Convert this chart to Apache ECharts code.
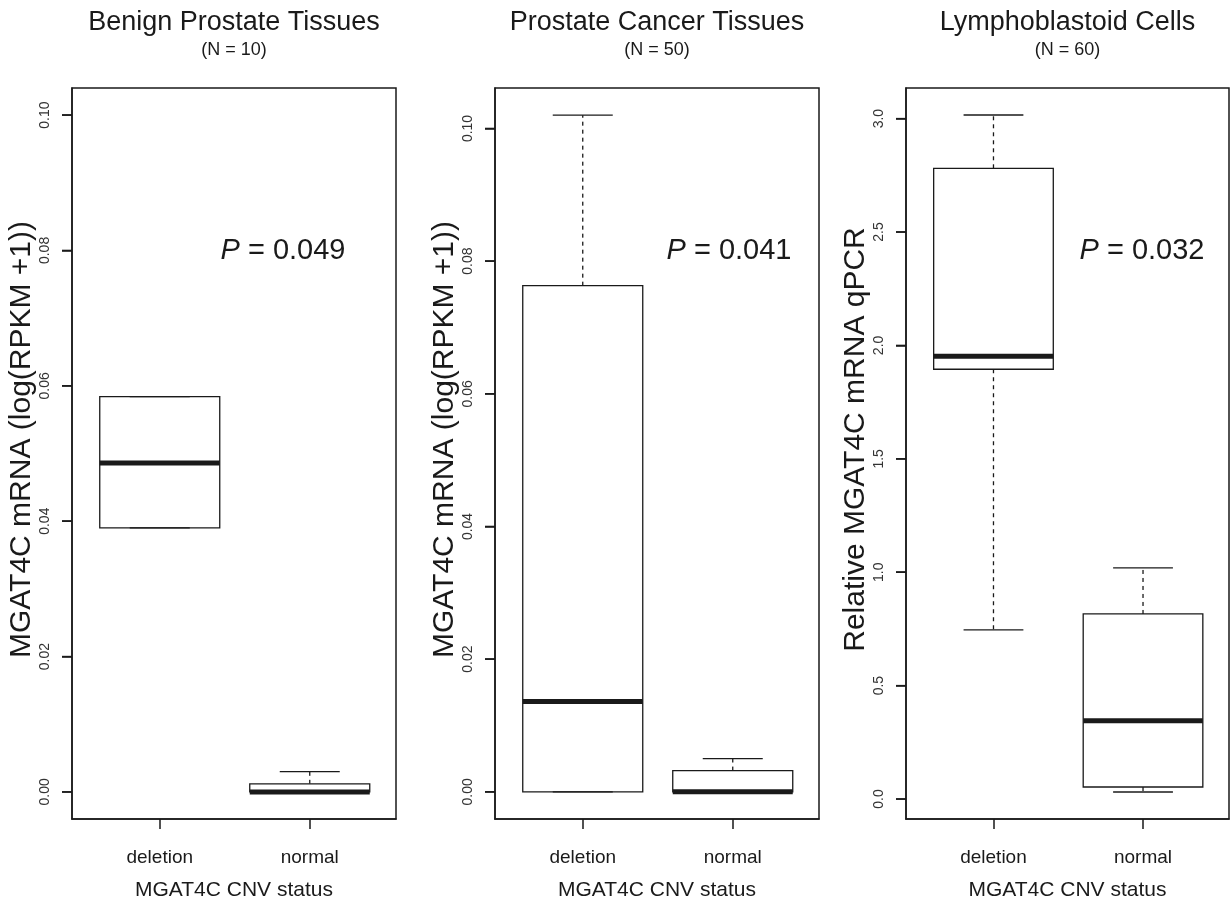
<!DOCTYPE html>
<html>
<head>
<meta charset="utf-8">
<script src="https://cdn.jsdelivr.net/npm/echarts@6/dist/echarts.min.js"></script>
<style>
html,body{margin:0;padding:0;background:#fff;}
#main{width:1230px;height:906px;}
</style>
</head>
<body>
<div id="main"></div>
<script>
// ---------- data ----------
const categories = ['deletion', 'normal'];
const panelTitles = ['Benign Prostate Tissues', 'Prostate Cancer Tissues', 'Lymphoblastoid Cells'];
const panelN = ['(N = 10)', '(N = 50)', '(N = 60)'];
const pValues = ['0.049', '0.041', '0.032'];
const yNames = ['MGAT4C mRNA (log(RPKM +1))', 'MGAT4C mRNA (log(RPKM +1))', 'Relative MGAT4C mRNA qPCR'];
const xName = 'MGAT4C CNV status';

// box statistics per category: [deletion, normal]
const benignLow    = [0.0390, 0.0000];
const benignQ1     = [0.0390, 0.0000];
const benignMedian = [0.0486, 0.0000];
const benignQ3     = [0.0584, 0.0012];
const benignHigh   = [0.0584, 0.0030];

const cancerLow    = [0.0000, 0.0000];
const cancerQ1     = [0.0000, 0.0000];
const cancerMedian = [0.0136, 0.0000];
const cancerQ3     = [0.0763, 0.0032];
const cancerHigh   = [0.1020, 0.0050];

const lymphoLow    = [0.746, 0.031];
const lymphoQ1     = [1.895, 0.053];
const lymphoMedian = [1.952, 0.345];
const lymphoQ3     = [2.781, 0.816];
const lymphoHigh   = [3.016, 1.019];

// y tick values and labels
const yTicksRPKM = [0, 0.02, 0.04, 0.06, 0.08, 0.10];
const yTickLabelsRPKM = ['0.00', '0.02', '0.04', '0.06', '0.08', '0.10'];
const yTicksQPCR = [0, 0.5, 1.0, 1.5, 2.0, 2.5, 3.0];
const yTickLabelsQPCR = ['0.0', '0.5', '1.0', '1.5', '2.0', '2.5', '3.0'];

// axis limits (data range extended by 4%, as in R)
const xLimits = [0.415, 2.575];
const yLimits = [[-0.004, 0.104], [-0.0041, 0.1061], [-0.088, 3.135]];

// ---------- build ----------
const panels = [
  {low: benignLow, q1: benignQ1, med: benignMedian, q3: benignQ3, high: benignHigh, ticks: yTicksRPKM, labels: yTickLabelsRPKM},
  {low: cancerLow, q1: cancerQ1, med: cancerMedian, q3: cancerQ3, high: cancerHigh, ticks: yTicksRPKM, labels: yTickLabelsRPKM},
  {low: lymphoLow, q1: lymphoQ1, med: lymphoMedian, q3: lymphoQ3, high: lymphoHigh, ticks: yTicksQPCR, labels: yTickLabelsQPCR}
];

const gridLefts = [72, 495, 906];
const gridWidths = [324, 324, 323];
const gridTop = 88, gridHeight = 732;
const narrow = "'Liberation Sans Narrow','Arial Narrow','Liberation Sans',Arial,sans-serif";
const sans = "'Liberation Sans',Arial,Helvetica,sans-serif";
const ink = '#1a1a1a';

const grids = [], xAxes = [], yAxes = [], series = [], graphics = [];

function renderBox(params, api) {
  const x = api.value(0);
  const lo = api.value(1), q1 = api.value(2), md = api.value(3), q3 = api.value(4), hi = api.value(5);
  const bw = api.size([0.8, 0])[0];
  const sw = bw / 2;
  const c = api.coord([x, md]);
  const cx = c[0];
  const yLo = api.coord([x, lo])[1];
  const yQ1 = api.coord([x, q1])[1];
  const yMd = c[1];
  const yQ3 = api.coord([x, q3])[1];
  const yHi = api.coord([x, hi])[1];
  const lineStyle = {stroke: ink, lineWidth: 1.3, fill: null};
  const dashStyle = {stroke: ink, lineWidth: 1.3, lineDash: [4, 4], fill: null};
  const children = [
    {type: 'line', shape: {x1: cx, y1: yQ3, x2: cx, y2: yHi}, style: dashStyle},
    {type: 'line', shape: {x1: cx, y1: yQ1, x2: cx, y2: yLo}, style: dashStyle},
    {type: 'rect', shape: {x: cx - bw / 2, y: yQ3, width: bw, height: yQ1 - yQ3}, style: {stroke: ink, lineWidth: 1.3, fill: '#fff'}},
    {type: 'line', shape: {x1: cx - sw / 2, y1: yHi, x2: cx + sw / 2, y2: yHi}, style: lineStyle},
    {type: 'line', shape: {x1: cx - sw / 2, y1: yLo, x2: cx + sw / 2, y2: yLo}, style: lineStyle},
    {type: 'line', shape: {x1: cx - bw / 2, y1: yMd, x2: cx + bw / 2, y2: yMd}, style: {stroke: ink, lineWidth: 5}}
  ];
  // y-axis tick marks at the left edge of the plot (drawn once per panel)
  if (params.dataIndex === 0) {
    const ticks = panels[params.seriesIndex].ticks;
    ticks.forEach(function (t) {
      const pt = api.coord([xLimits[0], t]);
      children.push({type: 'line', shape: {x1: pt[0] - 10, y1: pt[1], x2: pt[0], y2: pt[1]},
        style: {stroke: ink, lineWidth: 1.5}});
    });
  }
  return {type: 'group', children: children};
}

panels.forEach(function (p, i) {
  grids.push({
    left: gridLefts[i], top: gridTop, width: gridWidths[i], height: gridHeight,
    show: true, borderColor: ink, borderWidth: 1.5, backgroundColor: 'transparent'
  });
  xAxes.push({
    type: 'value', gridIndex: i, min: xLimits[0], max: xLimits[1], position: 'bottom',
    name: xName, nameLocation: 'middle', nameGap: 61,
    nameTextStyle: {fontFamily: sans, fontSize: 21, color: ink},
    axisLine: {show: true, onZero: false, lineStyle: {color: ink, width: 1.5}},
    splitLine: {show: false},
    axisTick: {show: true, inside: false, length: 10, lineStyle: {color: ink, width: 1.5}, customValues: [1, 2]},
    axisLabel: {
      show: true, margin: 29, fontFamily: sans, fontSize: 19, color: ink,
      customValues: [1, 2],
      formatter: function (v) { return categories[Math.round(v) - 1]; }
    }
  });
  yAxes.push({
    type: 'value', gridIndex: i, min: yLimits[i][0], max: yLimits[i][1], position: 'left',
    name: yNames[i], nameLocation: 'middle', nameRotate: 90, nameGap: 34,
    nameTextStyle: {fontFamily: sans, fontSize: 30, color: ink, padding: [0, 0, 0, 28]},
    axisLine: {show: true, onZero: false, lineStyle: {color: ink, width: 1.5}},
    splitLine: {show: false},
    axisTick: {show: true, inside: false, length: 10, lineStyle: {color: ink, width: 1.5}, customValues: p.ticks.slice()},
    axisLabel: {
      show: true, rotate: 90, margin: 20, fontFamily: narrow, fontSize: 14, color: '#333',
      customValues: p.ticks.slice(),
      formatter: function (v) {
        const k = p.ticks.findIndex(function (t) { return Math.abs(t - v) < 1e-9; });
        return k >= 0 ? p.labels[k] : '';
      }
    }
  });
  const data = categories.map(function (c, j) {
    return [j + 1, p.low[j], p.q1[j], p.med[j], p.q3[j], p.high[j]];
  });
  series.push({
    type: 'custom', xAxisIndex: i, yAxisIndex: i,
    renderItem: renderBox, data: data, silent: true, clip: false
  });
  const cx = gridLefts[i] + gridWidths[i] / 2;
  graphics.push({
    type: 'text', x: cx, y: 23,
    style: {text: panelTitles[i], align: 'center', verticalAlign: 'middle',
      fontFamily: sans, fontSize: 27, fill: ink}
  });
  graphics.push({
    type: 'text', x: cx, y: 50,
    style: {text: panelN[i], align: 'center', verticalAlign: 'middle',
      fontFamily: sans, fontSize: 18, fill: ink}
  });
});

const pCenters = [283, 729, 1142];
pValues.forEach(function (pv, i) {
  graphics.push({
    type: 'text', x: pCenters[i], y: 251,
    style: {
      text: '{i|P} = ' + pv, align: 'center', verticalAlign: 'middle',
      fontFamily: sans, fontSize: 29, fill: ink,
      rich: {i: {fontStyle: 'italic', fontFamily: sans, fontSize: 29, fill: ink}}
    }
  });
});

const chart = echarts.init(document.getElementById('main'), null, {renderer: 'canvas'});
chart.setOption({
  animation: false,
  backgroundColor: '#fff',
  grid: grids,
  xAxis: xAxes,
  yAxis: yAxes,
  series: series,
  graphic: {elements: graphics}
});
</script>
</body>
</html>
